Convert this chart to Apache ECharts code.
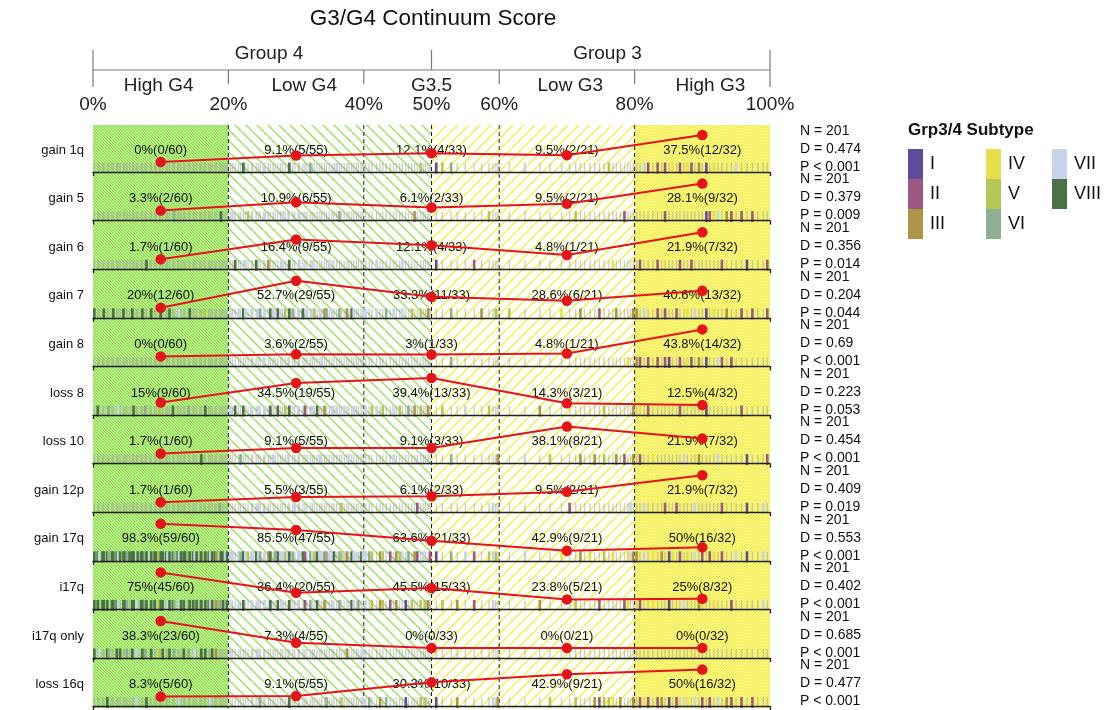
<!DOCTYPE html>
<html><head><meta charset="utf-8">
<script src="https://cdn.jsdelivr.net/npm/echarts@6/dist/echarts.min.js"></script>
<style>html,body{margin:0;padding:0;background:#fff}#c{width:1110px;height:710px}</style>
</head><body><div id="c"></div>
<script>
// ---------------- DATA ----------------
const rowNames = ['gain 1q','gain 5','gain 6','gain 7','gain 8','loss 8','loss 10','gain 12p','gain 17q','i17q','i17q only','loss 16q'];
const regionNames = ['High G4','Low G4','G3.5','Low G3','High G3'];
const regionMid = [10,30,50,70,90];
const regionN = [60,55,33,21,32];
const counts = [
  [0,5,4,2,12],
  [2,6,2,2,9],
  [1,9,4,1,7],
  [12,29,11,6,13],
  [0,2,1,1,14],
  [9,19,13,3,4],
  [1,5,3,8,7],
  [1,3,2,2,7],
  [59,47,21,9,16],
  [45,20,15,5,8],
  [23,4,0,0,0],
  [5,5,10,9,16]
];
const nTotal = 201;
const dStats = ['0.474','0.379','0.356','0.204','0.69','0.223','0.454','0.409','0.553','0.402','0.685','0.477'];
const pStats = ['< 0.001','= 0.009','= 0.014','= 0.044','< 0.001','= 0.053','< 0.001','= 0.019','< 0.001','< 0.001','< 0.001','< 0.001'];

const subtypeNames = ['I','II','III','IV','V','VI','VII','VIII'];
const subtypeColors = ['#5e4b9a','#9a5882','#ae9447','#e5e04c','#b7c755','#8fae92','#c8d3eb','#4a7147'];

const pctTicks = [0,20,40,50,60,80,100];
const groupTicks = [0,50,100];
const regionTicks = [0,20,40,60,80,100];
const groupNames = ['Group 4','Group 3'];
const groupPos = [26,76];
const subLabelPos = [9.7,31.2,50,70.5,91.2];
const dashXs = [20,40,50,60,80];
const bands = [[0,20],[20,50],[50,80],[80,100]];

// sample continuum scores (sorted), by region
const scoresHighG4 = [0.2,0.7,0.9,1.4,1.6,2.1,2.3,2.8,3.0,3.5,
  3.7,4.0,4.5,4.7,5.0,5.4,5.8,6.0,6.4,6.6,
  7.1,7.3,7.7,7.9,8.4,8.6,9.1,9.3,9.8,10.0,
  10.3,10.8,11.0,11.3,11.8,12.0,12.5,12.7,13.0,13.4,
  13.6,14.1,14.3,14.8,15.0,15.3,15.8,16.0,16.4,16.6,
  17.1,17.3,17.6,18.0,18.2,18.7,18.9,19.2,19.5,19.8];
const scoresLowG4 = [20.3,20.6,21.0,21.5,21.8,22.2,22.5,22.9,23.4,23.6,
  24.1,24.4,24.7,25.2,25.4,25.9,26.2,26.6,26.9,27.3,
  27.7,28.0,28.4,28.8,29.0,29.5,29.8,30.3,30.5,31.0,
  31.3,31.6,32.1,32.4,32.7,33.1,33.5,33.8,34.2,34.5,
  34.9,35.3,35.6,36.0,36.4,36.7,37.1,37.5,37.8,38.2,
  38.5,38.9,39.2,39.6,39.9];
const scoresG35 = [40.3,40.8,41.2,41.9,42.4,42.8,43.3,43.9,44.4,44.8,
  45.3,45.7,46.2,46.6,47.1,47.5,47.9,48.4,48.8,49.1,
  49.5,49.8,50.7,51.6,52.9,53.8,55.0,56.3,57.4,58.5,
  59.1,59.5,59.8];
const scoresLowG3 = [61.5,63.8,66.0,67.5,69.2,70.4,71.3,72.0,72.6,73.4,
  74.1,74.8,75.5,76.2,76.8,77.3,77.9,78.5,79.0,79.4,79.8];
const scoresHighG3 = [80.3,80.8,81.4,82.0,82.7,83.4,84.0,84.5,85.1,85.6,
  86.2,86.7,87.3,87.8,88.4,88.9,89.5,90.0,90.6,91.1,
  91.7,92.3,92.9,93.6,94.3,95.0,95.8,96.6,97.4,98.2,99.0,99.6];

// subtype of each sample (1..8 = I..VIII)
const sampleSubtypes =
  '8878886888 7888688878 8868788858 8878868788 8688786858 8788368878|' +
  '7787687577 8767738768 7757867778 2767587736 7787657378 77687|' +
  '7657356273 5716532575 3215637235 753|' +
  '5735425374 3255433247 3|' +
  '3272423214 2274273212 4723272124 72';

// event present (1) / absent (0) per sample, per row
const eventFlags = [
  '0000000000 0000000000 0000000000 0000000000 0000000000 0000000000|0000010000 0001000000 0000100000 0010000000 0001000000 00000|0000000000 0000000100 0011100000 000|0100000000 0001000000 0|0011010101 0101101010 1000010000 00',
  '0000000000 0000000000 0000000000 0000010000 0000000000 0000001000|0100000100 0000100000 0100000010 0000000000 0000100000 00000|0000000000 0000010000 0000000001 000|0000001000 0000000100 0|0000000100 0000000011 1101101010 00',
  '0000000000 0000000000 0001000000 0000000000 0000000000 0000000000|0010001000 1000010000 0100100010 0001000000 1000000000 00000|0001000000 0100000000 0010000100 000|0000000000 0000100000 0|0100010000 0100100000 0010000100 01',
  '1000100010 0010001000 0100010001 0001000100 0010000010 0000000000|1001011010 0110101101 1010110101 0101101011 0100100101 10001|1001001010 0100100100 1000100010 010|1000100100 0100010000 1|1010010100 1001010010 1001001010 01',
  '0000000000 0000000000 0000000000 0000000000 0000000000 0000000000|0000000000 0001000000 0000000000 0000000100 0000000000 00000|0000000000 0000000000 0000100000 000|0000000000 0000000010 0|1101010110 0101101010 0110100000 00',
  '0100001000 1000000100 0010000010 0000100000 0100000001 0000000000|1010010010 0100101001 0010100100 1001010010 0101001000 10000|1011010010 1001010100 1001001001 000|0010000000 0010000000 1|0001000000 0100000010 0000001000 00',
  '0000000000 0000000000 0000000000 0000000000 0000000100 0000000000|0000100000 0000000100 0001000000 0000001000 0000000010 00000|0000000010 0000000000 0000100000 001|0101000100 1010010100 1|0100100000 0010001000 0100000100 01',
  '0000000000 0000000000 0000000000 0000000000 0000000000 0000010000|0000000000 0100000000 0000001000 0000000000 0000010000 00000|0000000000 0000001000 0000000000 100|0000010000 0000000001 0|0010000100 1000010000 0010000100 10',
  '1111111111 1111111111 1111111111 1111111111 1111111111 1111101111|1101111111 1110111011 1111110111 1011111111 1110111101 11011|1110110101 1101011010 0110101101 110|0100100101 0010100011 1|1010101011 0101010101 1010010100 10',
  '1101110111 1011101110 1111011011 1011110111 0111011101 1110110101|1001010010 0100101001 0100100100 1010010010 0100100001 10100|1010110101 0010100101 1001010100 100|0010001000 0100000110 0|0100100010 0010001000 1000100000 10',
  '1010011001 0100101010 0110010010 1001010001 0100100101 0010100000|1000000000 0100000000 0000000000 0000000000 0000000100 00001|0000000000 0000000000 0000000000 000|0000000000 0000000000 0|0000000000 0000000000 0000000000 00',
  '0000010000 0000000010 0001000000 0000000100 0000000000 0100000000|0000000000 0010000000 0000100000 0000000001 0000010000 00001|0100101000 0010000101 0010010000 101|0001001000 1111101000 1|0101011010 1011010101 0101101010 00'
];

// ---------------- BUILD ----------------
const FONT = "'Liberation Sans', Arial, Helvetica, sans-serif";
const L = 93, W = 677;
const rowBase = i => 172 + i * 48.6;
const clean = s => s.replace(/[\s|]/g, '');
const scores = scoresHighG4.concat(scoresLowG4, scoresG35, scoresLowG3, scoresHighG3);
const subtypes = clean(sampleSubtypes);
const RED = '#e5141b';

function fmtPct(k, n) { return Math.round(k / n * 1000) / 10; }

function hatch(size, dir, bg, fg, lw) {
  const c = document.createElement('canvas');
  c.width = size; c.height = size;
  const x = c.getContext('2d');
  if (bg) { x.fillStyle = bg; x.fillRect(0, 0, size, size); }
  x.strokeStyle = fg; x.lineWidth = lw;
  x.beginPath();
  for (let k = -1; k <= 1; k++) {
    if (dir === '\\') { x.moveTo(k * size, 0); x.lineTo(k * size + size, size); }
    else { x.moveTo(k * size, size); x.lineTo(k * size + size, 0); }
  }
  x.stroke();
  return { image: c, repeat: 'repeat' };
}
const bandFills = [
  hatch(3, '\\', '#c8f2a0', '#88dd44', 1.1),
  hatch(11, '\\', '#ffffff', '#99e25a', 1.4),
  hatch(11, '/', '#ffffff', '#f3ef3c', 1.4),
  hatch(3, '/', '#fbf8a4', '#f1ed36', 1.1)
];

const grids = [], xAxes = [], yAxes = [], series = [], graphic = [];

// background grid (0)
grids.push({ left: L, width: W, top: 125, height: 583 });
xAxes.push({ gridIndex: 0, type: 'value', min: 0, max: 100, show: false });
yAxes.push({ gridIndex: 0, type: 'value', min: 0, max: 1, show: false });
series.push({
  type: 'custom', xAxisIndex: 0, yAxisIndex: 0, z: 0, silent: true,
  data: bands.map((b, i) => [b[0], b[1], i]),
  renderItem: (p, api) => {
    const a = api.coord([api.value(0), 1]), b = api.coord([api.value(1), 0]);
    return { type: 'rect', shape: { x: a[0], y: a[1], width: b[0] - a[0], height: b[1] - a[1] },
      style: { fill: bandFills[p.dataIndex] } };
  }
});
series.push({
  type: 'custom', xAxisIndex: 0, yAxisIndex: 0, z: 1, silent: true,
  data: dashXs.map(x => [x, 0]),
  renderItem: (p, api) => {
    const a = api.coord([api.value(0), 1]), b = api.coord([api.value(0), 0]);
    return { type: 'line', shape: { x1: a[0], y1: a[1], x2: b[0], y2: b[1] },
      style: { stroke: '#222', lineWidth: 1, lineDash: [4, 3] } };
  }
});

// header grid (1) : y value v -> pixel 120 - v
grids.push({ left: L, width: W, top: 40, height: 80 });
xAxes.push({ gridIndex: 1, type: 'value', min: 0, max: 100, show: false });
yAxes.push({ gridIndex: 1, type: 'value', min: 0, max: 80, show: false });
const headerLines = [[0, 50, 100, 50]]
  .concat(groupTicks.map(x => [x, 70, x, 50]))
  .concat(regionTicks.map(x => [x, 50, x, (x === 0 || x === 100) ? 33 : 36]));
series.push({
  type: 'custom', xAxisIndex: 1, yAxisIndex: 1, silent: true, z: 2,
  data: headerLines,
  renderItem: (p, api) => {
    const a = api.coord([api.value(0), api.value(1)]), b = api.coord([api.value(2), api.value(3)]);
    return { type: 'line', shape: { x1: a[0], y1: a[1], x2: b[0], y2: b[1] },
      style: { stroke: '#7a7a7a', lineWidth: 1.2 } };
  }
});
const headerTexts = [];
groupNames.forEach((g, i) => headerTexts.push({ x: groupPos[i], v: 66, t: g }));
regionNames.forEach((g, i) => headerTexts.push({ x: subLabelPos[i], v: 34, t: g }));
pctTicks.forEach(p => headerTexts.push({ x: p, v: 15, t: p + '%' }));
series.push({
  type: 'custom', xAxisIndex: 1, yAxisIndex: 1, silent: true, z: 2,
  data: headerTexts.map(h => [h.x, h.v]),
  renderItem: (p, api) => {
    const pt = api.coord([api.value(0), api.value(1)]);
    return { type: 'text', x: pt[0], y: pt[1],
      style: { text: headerTexts[p.dataIndex].t, font: '19px ' + FONT, fill: '#222',
        align: 'center', verticalAlign: 'middle', textAlign: 'center', textVerticalAlign: 'middle' } };
  }
});

// rows
rowNames.forEach((name, i) => {
  const b = rowBase(i);
  const gr = grids.length, gl = gr + 1;
  grids.push({ left: L, width: W, top: b - 40, height: 40 });
  grids.push({ left: L, width: W, top: b - 37, height: 27 });
  xAxes.push({ gridIndex: gr, type: 'value', min: 0, max: 100, interval: 100, z: 5,
    axisLine: { show: true, lineStyle: { color: '#222', width: 1.3 } },
    axisTick: { show: true, length: 4, lineStyle: { color: '#222', width: 1.3 } },
    axisLabel: { show: false }, splitLine: { show: false } });
  yAxes.push({ gridIndex: gr, type: 'value', min: 0, max: 40, show: false });
  const pcts = counts[i].map((k, j) => fmtPct(k, regionN[j]));
  xAxes.push({ gridIndex: gl, type: 'value', min: 0, max: 100, show: false });
  yAxes.push({ gridIndex: gl, type: 'value', min: Math.min(...pcts), max: Math.max(...pcts), show: false });

  // rug
  const flags = clean(eventFlags[i]);
  const absent = [], present = [];
  scores.forEach((s, j) => {
    const on = flags[j] === '1';
    const st = (+subtypes[j]) - 1;
    const it = { value: [s, 4], symbolSize: on ? [2.6, 11] : [1.4, 10],
      itemStyle: { color: on ? subtypeColors[st] : '#a0a0a0', opacity: on ? 1 : 0.5 } };
    (on ? present : absent).push(it);
  });
  series.push({ type: 'scatter', xAxisIndex: gr, yAxisIndex: gr, z: 3, silent: true,
    symbol: 'rect', data: absent.concat(present), clip: false });

  // labels
  const texts = counts[i].map((k, j) => pcts[j] + '%(' + k + '/' + regionN[j] + ')');
  series.push({
    type: 'custom', xAxisIndex: gr, yAxisIndex: gr, z: 4, silent: true,
    data: regionMid.map(x => [x, 22]),
    renderItem: (p, api) => {
      const pt = api.coord([api.value(0), api.value(1)]);
      return { type: 'text', x: pt[0], y: pt[1],
        style: { text: texts[p.dataIndex], font: '13px ' + FONT, fill: '#111',
          align: 'center', verticalAlign: 'middle', textAlign: 'center', textVerticalAlign: 'middle' } };
    }
  });

  // red line
  series.push({ type: 'line', xAxisIndex: gl, yAxisIndex: gl, z: 6, silent: true, clip: false,
    data: regionMid.map((x, j) => [x, pcts[j]]),
    lineStyle: { color: RED, width: 2 }, itemStyle: { color: RED },
    symbol: 'circle', symbolSize: 10.5, showSymbol: true });

  // row label & stats
  graphic.push({ type: 'text', x: 84, y: b - 22, silent: true,
    style: { text: name, font: '13px ' + FONT, fill: '#111', align: 'right', verticalAlign: 'middle', textAlign: 'right', textVerticalAlign: 'middle' } });
  ['N = ' + nTotal, 'D = ' + dStats[i], 'P ' + pStats[i]].forEach((t, k) => {
    graphic.push({ type: 'text', x: 800, y: b - 41 + k * 18, silent: true,
      style: { text: t, font: '14px ' + FONT, fill: '#111', align: 'left', verticalAlign: 'middle', textAlign: 'left', textVerticalAlign: 'middle' } });
  });
});

// title + legend title
graphic.push({ type: 'text', x: 433, y: 19, silent: true,
  style: { text: 'G3/G4 Continuum Score', font: '22.5px ' + FONT, fill: '#111', align: 'center', verticalAlign: 'middle', textAlign: 'center', textVerticalAlign: 'middle' } });
graphic.push({ type: 'text', x: 908, y: 130, silent: true,
  style: { text: 'Grp3/4 Subtype', font: 'bold 17px ' + FONT, fill: '#111', align: 'left', verticalAlign: 'middle', textAlign: 'left', textVerticalAlign: 'middle' } });

// legend dummy series
subtypeNames.forEach((n, i) => series.push({ type: 'scatter', name: n, data: [], xAxisIndex: 0, yAxisIndex: 0,
  itemStyle: { color: subtypeColors[i], opacity: 1 } }));
const legendCols = [['I', 'II', 'III'], ['IV', 'V', 'VI'], ['VII', 'VIII']];
const legendLeft = [908, 986, 1052];
const legends = legendCols.map((d, i) => ({
  data: d, left: legendLeft[i], top: 149, orient: 'vertical', padding: 0,
  itemWidth: 15, itemHeight: 30, itemGap: 0, icon: 'rect', selectedMode: false,
  itemStyle: { opacity: 1 },
  textStyle: { fontSize: 18, fontFamily: FONT, color: '#111', padding: [0, 0, 0, 2] }
}));

const chart = echarts.init(document.getElementById('c'));
chart.setOption({ animation: false, grid: grids, xAxis: xAxes, yAxis: yAxes, series, legend: legends, graphic });
</script></body></html>
